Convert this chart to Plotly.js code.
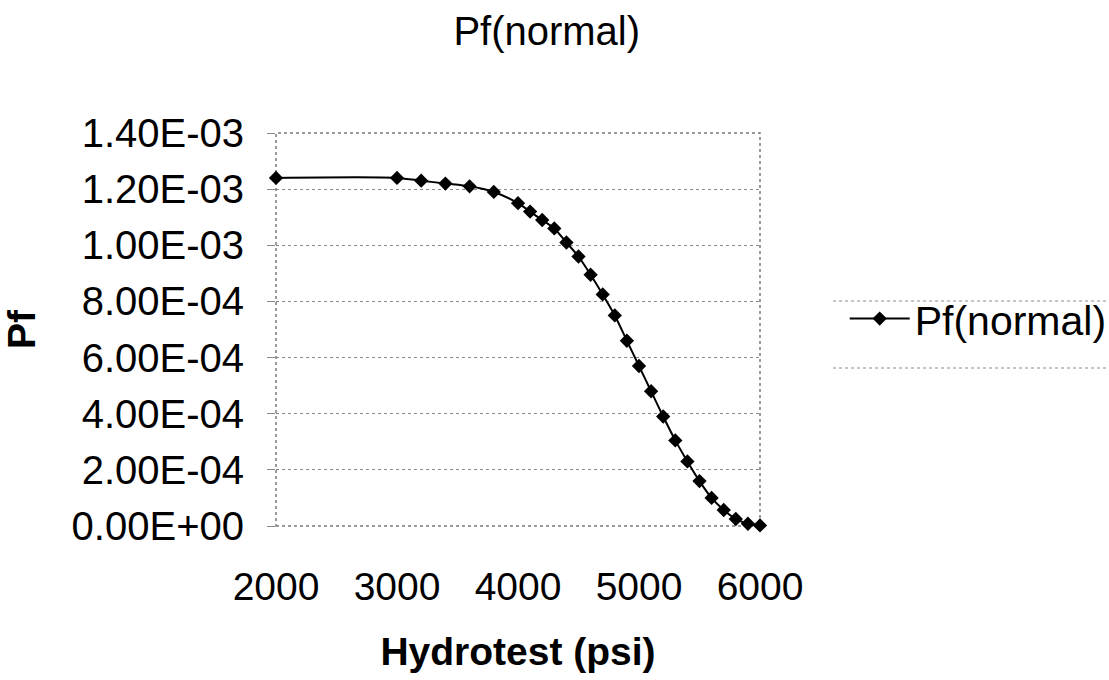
<!DOCTYPE html>
<html>
<head>
<meta charset="utf-8">
<script src="https://cdn.plot.ly/plotly-3.0.1.min.js"></script>
<style>html,body{margin:0;padding:0;background:#fff;}#chart{width:1109px;height:680px;}</style>
</head>
<body>
<div id="chart"></div>
<script>
const hydrotest = [2000, 3000, 3200, 3400, 3600, 3800, 4000, 4100, 4200, 4300, 4400, 4500, 4600, 4700, 4800, 4900, 5000, 5100, 5200, 5300, 5400, 5500, 5600, 5700, 5800, 5900, 6000];
const pfNormal = [1.24e-3, 1.24e-3, 1.23e-3, 1.22e-3, 1.21e-3, 1.19e-3, 1.15e-3, 1.12e-3, 1.09e-3, 1.06e-3, 1.01e-3, 9.6e-4, 8.95e-4, 8.25e-4, 7.5e-4, 6.6e-4, 5.7e-4, 4.8e-4, 3.9e-4, 3.05e-4, 2.3e-4, 1.6e-4, 1.0e-4, 5.7e-5, 2.5e-5, 8e-6, 2e-6];
const yTickVals = [0, 2e-4, 4e-4, 6e-4, 8e-4, 1.0e-3, 1.2e-3, 1.4e-3];
const yTickText = ["0.00E+00", "2.00E-04", "4.00E-04", "6.00E-04", "8.00E-04", "1.00E-03", "1.20E-03", "1.40E-03"];
const xTickVals = [2000, 3000, 4000, 5000, 6000];
const xTickText = ["2000", "3000", "4000", "5000", "6000"];

const FONT = '"Liberation Sans", Arial, sans-serif';

const trace = {
  x: hydrotest,
  y: pfNormal,
  type: 'scatter',
  mode: 'lines+markers',
  name: 'Pf(normal)',
  line: {color: '#000', width: 2, shape: 'spline', smoothing: 0.8},
  marker: {symbol: 'diamond', size: 11, color: '#000'},
  cliponaxis: false
};

const layout = {
  width: 1109,
  height: 680,
  paper_bgcolor: '#fff',
  plot_bgcolor: '#fff',
  margin: {l: 276, r: 349, t: 133, b: 154, autoexpand: false},
  font: {family: FONT, color: '#000'},
  title: {
    text: 'Pf(normal)',
    font: {family: FONT, size: 40, color: '#000'},
    x: 0.493, xref: 'container', xanchor: 'center',
    y: 0.954, yref: 'container', yanchor: 'middle'
  },
  xaxis: {
    range: [2000, 6000],
    tickvals: xTickVals,
    ticktext: xTickText,
    tickfont: {family: FONT, size: 39, color: '#000'},
    showgrid: false,
    zeroline: false,
    showline: false,
    ticks: '',
    ticklabelstandoff: 34,
    title: {text: 'Hydrotest (psi)', font: {family: FONT, size: 39, color: '#000', weight: 'bold'}, standoff: 30},
    automargin: false,
    fixedrange: true
  },
  yaxis: {
    range: [0, 1.4e-3],
    tickvals: yTickVals,
    ticktext: yTickText,
    tickfont: {family: FONT, size: 40, color: '#000'},
    showgrid: true,
    gridcolor: '#8a8a8a',
    griddash: 'dot',
    gridwidth: 1,
    zeroline: false,
    showline: false,
    ticks: 'outside',
    ticklen: 8,
    tickcolor: '#8a8a8a',
    ticklabelstandoff: 15,
    title: {text: 'Pf', font: {family: FONT, size: 39, color: '#000', weight: 'bold'}, standoff: 28},
    automargin: false,
    fixedrange: true
  },
  showlegend: true,
  legend: {
    x: 1.175, xref: 'paper', xanchor: 'left',
    y: 0.527, yref: 'paper', yanchor: 'middle',
    font: {family: FONT, size: 41, color: '#000'},
    bgcolor: 'rgba(0,0,0,0)',
    borderwidth: 0,
    itemwidth: 60
  },
  shapes: [
    {type: 'rect', xref: 'paper', yref: 'paper', x0: 0, x1: 1, y0: 0, y1: 1,
     line: {color: '#7a7a7a', width: 1.5, dash: 'dot'}, layer: 'below'},
    {type: 'line', xref: 'paper', yref: 'paper', x0: 1.151, x1: 1.75, y0: 0.5725, y1: 0.5725,
     line: {color: '#8a8a8a', width: 1, dash: 'dot'}},
    {type: 'line', xref: 'paper', yref: 'paper', x0: 1.151, x1: 1.75, y0: 0.402, y1: 0.402,
     line: {color: '#8a8a8a', width: 1, dash: 'dot'}}
  ]
};

Plotly.newPlot('chart', [trace], layout, {displayModeBar: false, staticPlot: true});
</script>
</body>
</html>
